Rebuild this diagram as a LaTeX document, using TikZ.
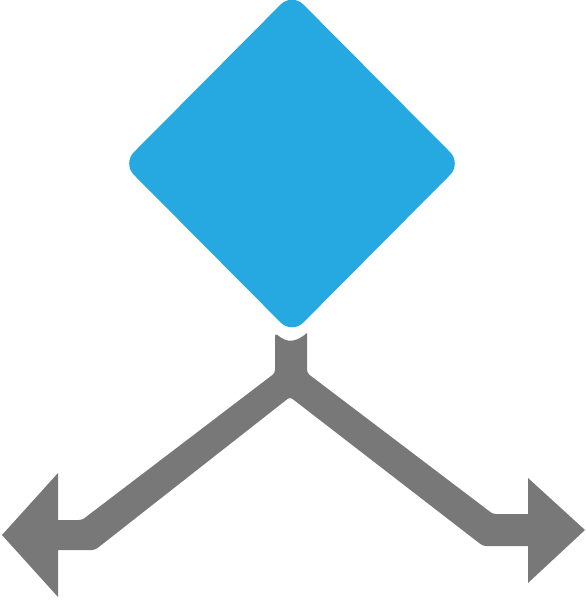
\documentclass[tikz,border=0pt]{standalone}
\usetikzlibrary{shapes.geometric}
\definecolor{dblue}{HTML}{26A9E0}
\definecolor{agray}{HTML}{787878}
\tikzset{
  decision/.style={diamond, fill=dblue, draw=none, inner sep=0pt,
    minimum width=339pt, minimum height=341pt, rounded corners=16pt},
  splitarrow/.style={fill=agray, draw=none}
}
\begin{document}
\begin{tikzpicture}[x=1pt,y=-1pt]
\useasboundingbox (0,0) rectangle (586,600);
\node[decision] (d) at (292,163.5) {};
\fill[splitarrow]
  (275,333) .. controls (287,343) and (295,343) .. (307,333)
  [rounded corners=3pt] -- (307,373) -- (493,514)
  [sharp corners] -- (528,514) -- (528,478) -- (585,530) -- (528,583) -- (528,546)
  [rounded corners=3pt] -- (483,546) -- (290,397) -- (95,550)
  [sharp corners] -- (58,550) -- (58,597) -- (2,535) -- (58,473) -- (58,520)
  [rounded corners=3pt] -- (82,520) -- (275,373) -- cycle;
\end{tikzpicture}
\end{document}
